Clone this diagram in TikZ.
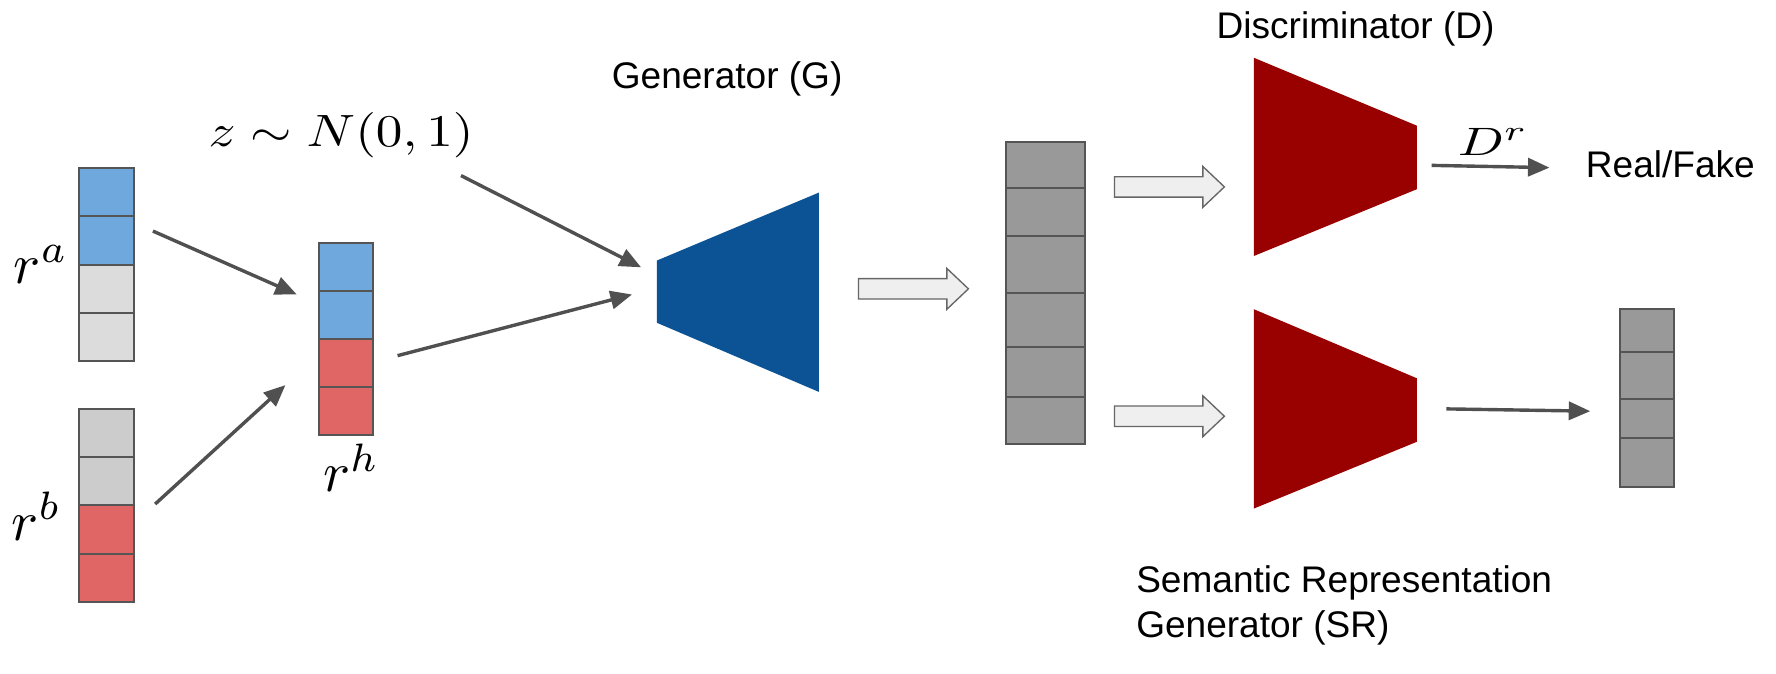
\documentclass[tikz,border=0pt]{standalone}
\usepackage{fontspec}
\setmainfont{Liberation Sans}
\usepackage{graphicx}
\usetikzlibrary{arrows.meta}
\definecolor{cblue}{HTML}{6FA8DC}
\definecolor{cred}{HTML}{E06666}
\definecolor{cgrayA}{HTML}{DCDCDC}
\definecolor{cgrayB}{HTML}{CCCCCC}
\definecolor{cgrayC}{HTML}{999999}
\definecolor{edgegray}{HTML}{555555}
\definecolor{arrgray}{HTML}{505050}
\definecolor{gblue}{HTML}{0B5394}
\definecolor{dred}{HTML}{990000}
\definecolor{hollowfill}{HTML}{EFEFEF}
\definecolor{hollowedge}{HTML}{666666}
\newcommand\hollowarr[3]{%
  \draw[hollow] (#1,#3-9) -- (#2-19,#3-9) -- (#2-19,#3-18) -- (#2,#3)
    -- (#2-19,#3+18) -- (#2-19,#3+9) -- (#1,#3+9) -- cycle;}
\begin{document}
\begin{tikzpicture}[x=1pt,y=-1pt,
  cell/.style={draw=edgegray, line width=1.8pt, inner sep=0pt, anchor=north west},
  conn/.style={draw=arrgray, line width=3pt, -{Triangle[length=19pt,width=16pt]}},
  sanslabel/.style={inner sep=0pt, anchor=base west, font=\fontsize{32.7}{40}\selectfont},
  mathlabel/.style={inner sep=0pt, anchor=base west},
  hollow/.style={draw=hollowedge, fill=hollowfill, line width=1.2pt, line join=miter},
  ]
\useasboundingbox (0,0) rectangle (1568,595);
\fill[white] (0,0) rectangle (1568,595);

% r^a column
\node[cell, minimum width=48, minimum height=42.6, fill=cblue]  (ra1) at (69,147.5) {};
\node[cell, minimum width=48, minimum height=42.6, fill=cblue]  (ra2) at (69,190.1) {};
\node[cell, minimum width=48, minimum height=42.6, fill=cgrayA] (ra3) at (69,232.7) {};
\node[cell, minimum width=48, minimum height=42.6, fill=cgrayA] (ra4) at (69,275.3) {};
% r^b column
\node[cell, minimum width=48, minimum height=42.6, fill=cgrayB] (rb1) at (69,360) {};
\node[cell, minimum width=48, minimum height=42.6, fill=cgrayB] (rb2) at (69,402.6) {};
\node[cell, minimum width=48, minimum height=42.6, fill=cred]   (rb3) at (69,445.2) {};
\node[cell, minimum width=48, minimum height=42.6, fill=cred]   (rb4) at (69,487.8) {};
% r^h column
\node[cell, minimum width=47, minimum height=42.4, fill=cblue] (rh1) at (281,213.5) {};
\node[cell, minimum width=47, minimum height=42.4, fill=cblue] (rh2) at (281,255.9) {};
\node[cell, minimum width=47, minimum height=42.4, fill=cred]  (rh3) at (281,298.3) {};
\node[cell, minimum width=47, minimum height=42.4, fill=cred]  (rh4) at (281,340.7) {};
% big output column
\node[cell, minimum width=70, minimum height=40.5, fill=cgrayC] (o1) at (887,124.5) {};
\node[cell, minimum width=70, minimum height=42.5, fill=cgrayC] (o2) at (887,165) {};
\node[cell, minimum width=70, minimum height=50.5, fill=cgrayC] (o3) at (887,207.5) {};
\node[cell, minimum width=70, minimum height=47.5, fill=cgrayC] (o4) at (887,258) {};
\node[cell, minimum width=70, minimum height=44,   fill=cgrayC] (o5) at (887,305.5) {};
\node[cell, minimum width=70, minimum height=41.5, fill=cgrayC] (o6) at (887,349.5) {};
% small semantic column
\node[cell, minimum width=48, minimum height=38, fill=cgrayC] (s1) at (1429,272) {};
\node[cell, minimum width=48, minimum height=41, fill=cgrayC] (s2) at (1429,310) {};
\node[cell, minimum width=48, minimum height=35, fill=cgrayC] (s3) at (1429,351) {};
\node[cell, minimum width=48, minimum height=43, fill=cgrayC] (s4) at (1429,386) {};

% trapezoids
\fill[gblue] (580,230) -- (723,170) -- (723,346) -- (580,285) -- cycle;
\fill[dred] (1107,51) -- (1251,111) -- (1251,167) -- (1107,226) -- cycle;
\fill[dred] (1107,273) -- (1251,334) -- (1251,390) -- (1107,449) -- cycle;

% labels
\node[mathlabel] (la) at (12,250) {\scalebox{5.0}{$r^a$}};
\node[mathlabel] (lb) at (10,477) {\scalebox{5.0}{$r^b$}};
\node[mathlabel] (lh) at (285,434) {\scalebox{5.0}{$r^h$}};
\node[mathlabel] (lz) at (184,129) {\scalebox{4.7}[4.0]{$z\sim N(0,1)$}};
\node[mathlabel] (ldr) at (1287,137) {\scalebox{4.76}[3.5]{$D^r$}};
\node[sanslabel] (tg) at (540,78) {Generator (G)};
\node[sanslabel] (td) at (1074,34) {Discriminator (D)};
\node[sanslabel] (trf) at (1400,157) {Real/Fake};
\node[sanslabel] (tsr1) at (1003,523) {Semantic Representation};
\node[sanslabel] (tsr2) at (1003,563) {Generator (SR)};

% arrow end points
\coordinate (a1s) at (135,204);  \coordinate (a1e) at (262,260);
\coordinate (a2s) at (137,445);  \coordinate (a2e) at (252,340);
\coordinate (a3s) at (407,155);  \coordinate (a3e) at (566,236);
\coordinate (a4s) at (351,314);  \coordinate (a4e) at (558,260);
\coordinate (a5s) at (1264,146); \coordinate (a5e) at (1368,148);
\coordinate (a6s) at (1277,361); \coordinate (a6e) at (1404,363);

\draw[conn] (a1s) -- (a1e);
\draw[conn] (a2s) -- (a2e);
\draw[conn] (a3s) -- (a3e);
\draw[conn] (a4s) -- (a4e);
\draw[conn] (a5s) -- (a5e);
\draw[conn] (a6s) -- (a6e);

% hollow arrows
\hollowarr{758}{855}{255}
\hollowarr{984}{1081}{165}
\hollowarr{984}{1081}{367.5}
\end{tikzpicture}
\end{document}
